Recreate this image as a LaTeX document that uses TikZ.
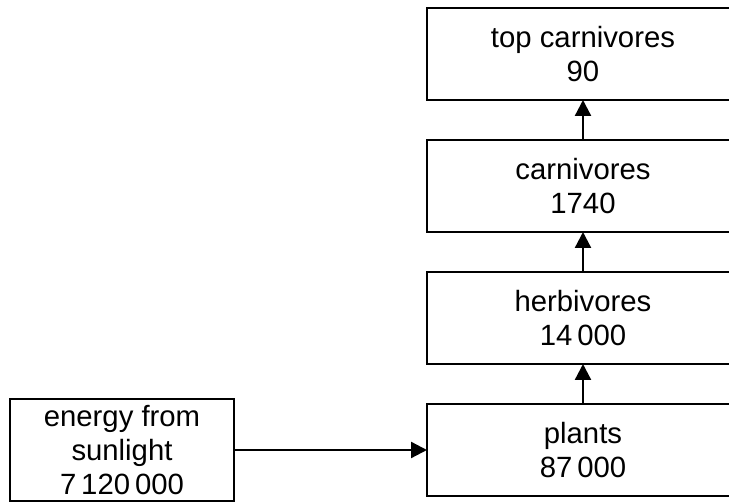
\documentclass[tikz,border=0pt]{standalone}
\usepackage{fontspec}
\setmainfont{Liberation Sans}
\usetikzlibrary{positioning,arrows.meta}

\begin{document}
\begin{tikzpicture}[x=1pt, y=-1pt, >={Triangle[length=16pt,width=16pt]}, line cap=butt, line join=miter]

% --- Global TikZ Styles ---
\tikzset{
    level/.style={
        draw=black,
        line width=2.3pt,
        outer sep=0pt,
        align=center,
        inner sep=0pt,
        minimum width=312pt,
        minimum height=92pt,
        font=\fontsize{29.3}{33.7}\selectfont
    },
    source/.style={
        level,
        minimum width=224pt,
        minimum height=102pt
    },
    flow/.style={
        ->,
        line width=2.3pt,
        draw=black
    }
}

% --- Frame ---
\useasboundingbox (0,0) rectangle (729,502);
\clip (0,0) rectangle (729,502);

% --- Trophic levels ---
\node[level] (plants) at (583,450) {plants\\87\,000};
\node[level, above=40pt of plants] (herbivores) {herbivores\\14\,000};
\node[level, above=40pt of herbivores] (carnivores) {carnivores\\1740};
\node[level, above=40pt of carnivores] (topcarn) {top carnivores\\90};

% --- Sunlight input ---
\node[source] (sun) at (122,450) {energy from\\sunlight\\7\,120\,000};

% --- Energy flow ---
\draw[flow] (sun.east) -- (plants.west);
\draw[flow] (plants) -- (herbivores);
\draw[flow] (herbivores) -- (carnivores);
\draw[flow] (carnivores) -- (topcarn);

\end{tikzpicture}
\end{document}
